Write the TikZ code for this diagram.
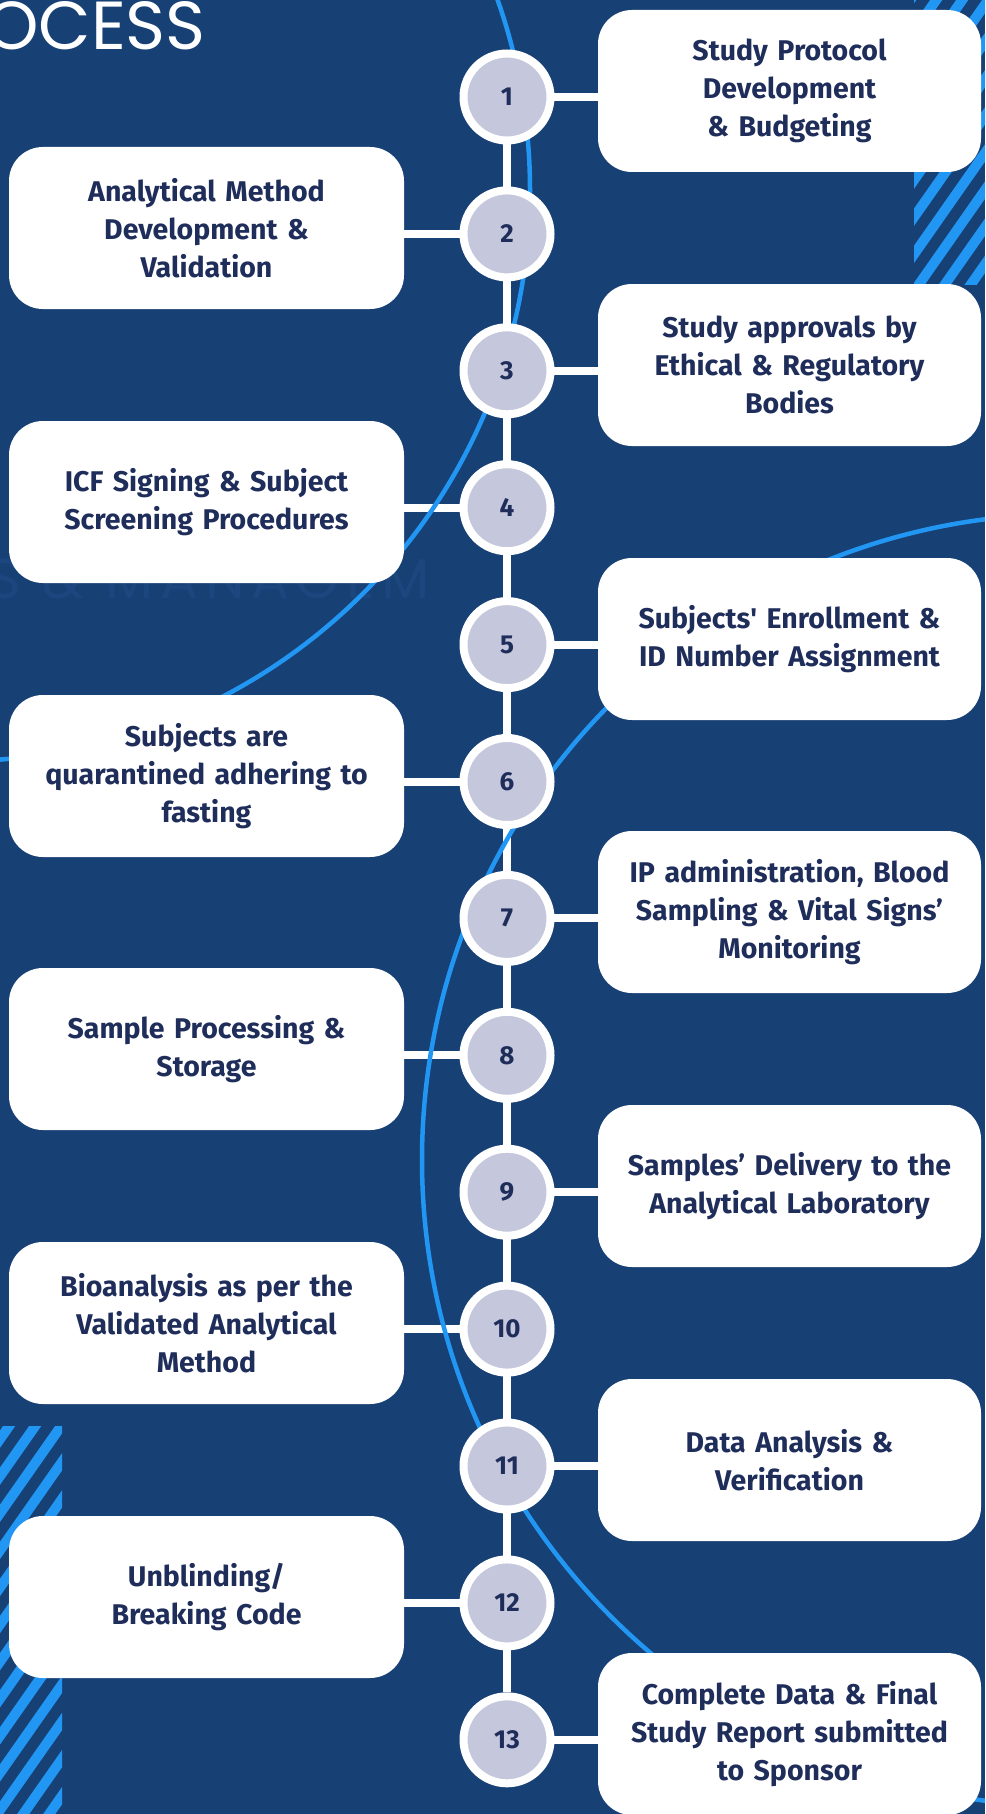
\documentclass[tikz,border=0pt]{standalone}
\usepackage{fontspec}
\setmainfont{Fira Sans}
\newfontfamily\titlefont{Poppins}
\usetikzlibrary{positioning}
\definecolor{navy}{HTML}{174075}
\definecolor{skyline}{HTML}{2196F3}
\definecolor{stepgrey}{HTML}{C5C8DC}
\definecolor{inkblue}{HTML}{1E2D5A}
\definecolor{ghost}{HTML}{1B467E}
\pgfdeclarelayer{back}
\pgfdeclarelayer{mid}
\pgfsetlayers{back,mid,main}

\begin{document}
\begin{tikzpicture}[x=1pt,y=-1pt,
    stepnum/.style={circle,draw=white,line width=8pt,fill=stepgrey,minimum size=87pt,
      inner sep=0pt,text=inkblue,font=\bfseries\fontsize{26}{26}\selectfont},
    stepbox/.style={rectangle,rounded corners=34pt,fill=white,minimum height=162pt,
      inner sep=8pt,align=center,text=inkblue,font=\bfseries\fontsize{28.5}{38}\selectfont},
    leftbox/.style={stepbox,text width=379pt},
    rightbox/.style={stepbox,text width=367pt},
    link/.style={white,line width=8pt},
    bgcurve/.style={skyline,line width=4.5pt},
    stripe/.style={skyline,line width=10pt}]
    \useasboundingbox (0,0) rectangle (985,1814);

    % background, stripes, watermark
    \begin{pgfonlayer}{back}
        \fill[navy] (0,0) rectangle (985,1814);
        \begin{scope}
            \clip (914,0) rectangle (985,284);
            \foreach \s in {700,726,...,990}
                \draw[stripe] (\s,300) -- ++(220,-314);
        \end{scope}
        \begin{scope}
            \clip (0,1426) rectangle (62,1814);
            \foreach \s in {-300,-274,...,70}
                \draw[stripe] (\s,1830) -- ++(300,-428);
        \end{scope}
        \node[anchor=base west,inner sep=0pt,text=ghost,
          font=\titlefont\fontsize{56}{56}\selectfont\addfontfeature{LetterSpace=12}] (mark) at (-12,598) {S \& MANAGEM};
    \end{pgfonlayer}

    \node[anchor=base east,inner sep=0pt,text=white,font=\titlefont\fontsize{68}{68}\selectfont] (title) at (206,50) {OCESS};

    % steps
    \foreach \i in {1,...,13}
        \node[stepnum] (c\i) at (507,{97+136.9*(\i-1)}) {\i};

    \node[rightbox] (b1)  at (789.5,91)   {Study Protocol\\Development\\\& Budgeting};
    \node[leftbox]  (b2)  at (206.5,228)  {Analytical Method\\Development \&\\Validation};
    \node[rightbox] (b3)  at (789.5,365)  {Study approvals by\\Ethical \& Regulatory\\Bodies};
    \node[leftbox]  (b4)  at (206.5,502)  {ICF Signing \& Subject\\Screening Procedures};
    \node[rightbox] (b5)  at (789.5,639)  {Subjects\textquotesingle{} Enrollment \&\\ID Number Assignment};
    \node[leftbox]  (b6)  at (206.5,776)  {Subjects are\\quarantined adhering to\\fasting};
    \node[rightbox] (b7)  at (789.5,912)  {IP administration, Blood\\Sampling \& Vital Signs'\\Monitoring};
    \node[leftbox]  (b8)  at (206.5,1049) {Sample Processing \&\\Storage};
    \node[rightbox] (b9)  at (789.5,1186) {Samples' Delivery to the\\Analytical Laboratory};
    \node[leftbox]  (b10) at (206.5,1323) {Bioanalysis as per the\\Validated Analytical\\Method};
    \node[rightbox] (b11) at (789.5,1460) {Data Analysis \&\\Verification};
    \node[leftbox]  (b12) at (206.5,1597) {Unblinding/\\Breaking Code};
    \node[rightbox] (b13) at (789.5,1734) {Complete Data \& Final\\Study Report submitted\\to Sponsor};

    % connectors and curves
    \begin{pgfonlayer}{mid}
        \draw[link] (c1) -- (c13);
        \foreach \i in {1,3,...,13}
            \draw[link] (c\i.center) -- (c\i.center -| b\i.west);
        \foreach \i in {2,4,...,12}
            \draw[link] (c\i.center) -- (c\i.center -| b\i.east);
        \begin{scope}
            \clip (0,0) rectangle (985,1814);
            \draw[bgcurve] (-41,190) circle[radius=571pt];
            \draw[bgcurve] (1068,1160) circle[radius=646pt];
        \end{scope}
    \end{pgfonlayer}
\end{tikzpicture}
\end{document}
